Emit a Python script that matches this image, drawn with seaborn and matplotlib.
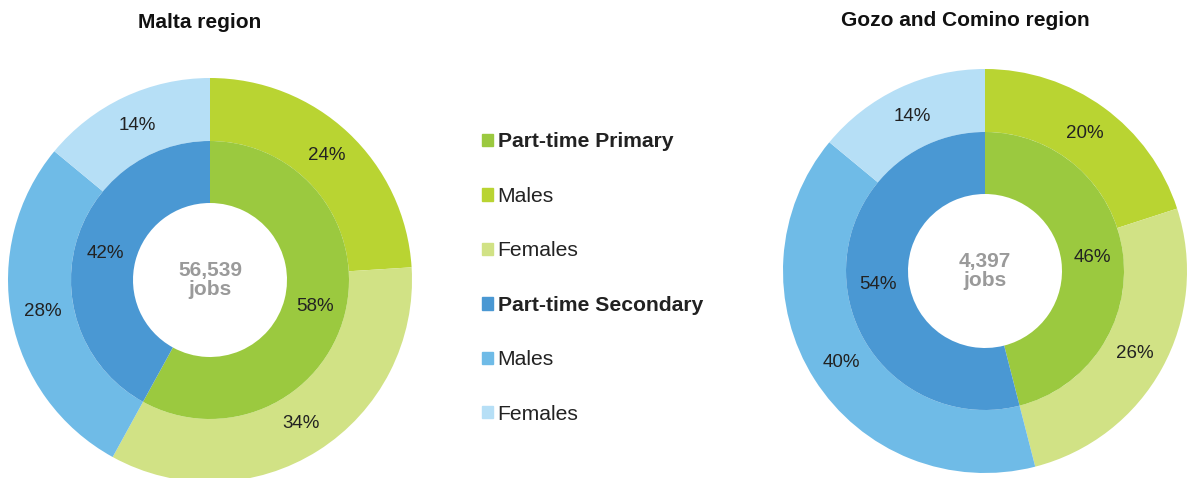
import matplotlib
matplotlib.use("Agg")
import matplotlib.pyplot as plt
import seaborn as sns
from matplotlib.patches import Patch

# ── data ───────────────────────────────────────────────────────────────
regions = ["Malta region", "Gozo and Comino region"]
total_jobs = ["56,539", "4,397"]
inner_labels = ["Part-time Primary", "Part-time Secondary"]
outer_labels = ["Males", "Females", "Males", "Females"]
inner_pct = [[58, 42], [46, 54]]
outer_pct = [[24, 34, 28, 14], [20, 26, 40, 14]]

inner_colors = ["#9BC93F", "#4A98D3"]
outer_colors = ["#B9D432", "#D1E285", "#6FBBE7", "#B6DFF6"]

sns.set_theme(style="white")
plt.rcParams["font.family"] = ["Liberation Sans", "DejaVu Sans"]

W, H = 1187, 478
fig = plt.figure(figsize=(W / 100, H / 100), dpi=100)
ax = fig.add_axes([0, 0, 1, 1])
ax.set_xlim(0, W)
ax.set_ylim(0, H)
ax.set_aspect("equal")
ax.axis("off")

# pixel layout (y from the top)
centers = [(210, 280), (985, 271)]
r_out, r_mid, r_hole = 202, 139, 77
title_pos = [(200, 22), (965, 20)]

for i, (cx, cy) in enumerate(centers):
    c = (cx, H - cy)
    ax.pie(outer_pct[i], colors=outer_colors, radius=r_out, center=c,
           startangle=90, counterclock=False,
           wedgeprops=dict(width=r_out - r_mid, linewidth=0),
           autopct="%d%%", pctdistance=(r_out + r_mid) / 2 / r_out,
           textprops=dict(fontsize=13.5, color="#222222"))
    ax.pie(inner_pct[i], colors=inner_colors, radius=r_mid, center=c,
           startangle=90, counterclock=False,
           wedgeprops=dict(width=r_mid - r_hole, linewidth=0),
           autopct="%d%%", pctdistance=(r_mid + r_hole) / 2 / r_mid,
           textprops=dict(fontsize=13.5, color="#222222"))
    ax.text(cx, H - cy, f"{total_jobs[i]}\njobs", ha="center", va="center",
            fontsize=15, fontweight="bold", color="#9A9A9A", linespacing=1.0)
    tx, ty = title_pos[i]
    ax.text(tx, H - ty, regions[i], ha="center", va="center",
            fontsize=15, fontweight="bold", color="#111111")

ax.set_xlim(0, W)
ax.set_ylim(0, H)

# legend
handles = [Patch(color=inner_colors[0]), Patch(color=outer_colors[0]),
           Patch(color=outer_colors[1]), Patch(color=inner_colors[1]),
           Patch(color=outer_colors[2]), Patch(color=outer_colors[3])]
labels = [inner_labels[0], outer_labels[0], outer_labels[1],
          inner_labels[1], outer_labels[2], outer_labels[3]]
leg = fig.legend(handles, labels, loc="upper left",
                 bbox_to_anchor=(474 / W, 1 - 124 / H), frameon=False,
                 fontsize=15.2, handlelength=0.52, handleheight=0.52,
                 handletextpad=0.2, labelspacing=1.68, borderaxespad=0)
for j, t in enumerate(leg.get_texts()):
    t.set_color("#222222")
    if j in (0, 3):
        t.set_fontweight("bold")

fig.savefig("out.png", dpi=100)
